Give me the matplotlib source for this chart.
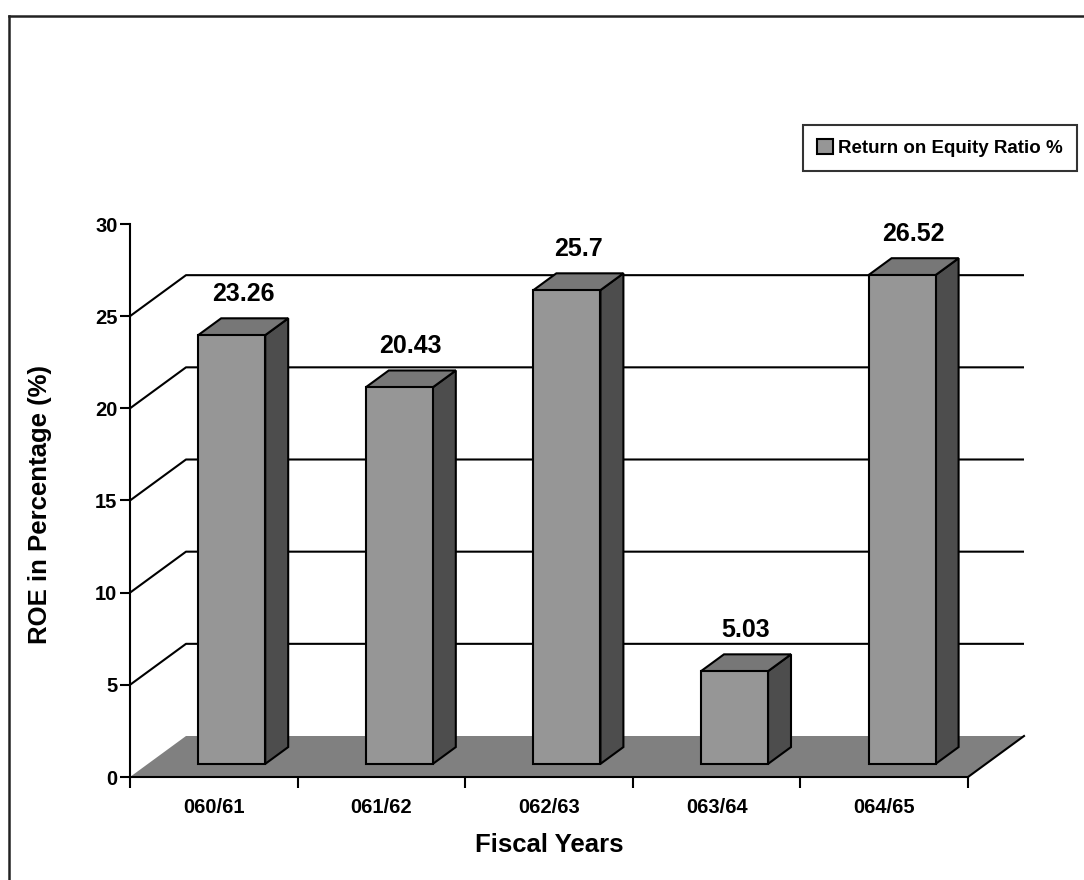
import matplotlib
matplotlib.use("Agg")
import matplotlib.pyplot as plt
from matplotlib.patches import Polygon, Patch
from matplotlib.lines import Line2D

categories = ["060/61", "061/62", "062/63", "063/64", "064/65"]
values = [23.26, 20.43, 25.70, 5.03, 26.52]
value_labels = ["23.26", "20.43", "25.7", "5.03", "26.52"]
yticks = [0, 5, 10, 15, 20, 25, 30]
series_name = "Return on Equity Ratio %"

plt.rcParams['font.family'] = ['Liberation Sans', 'DejaVu Sans']
plt.rcParams['font.weight'] = 'bold'

W, H = 1084, 880
fig = plt.figure(figsize=(W / 100, H / 100), dpi=100)
fig.patch.set_facecolor('white')

# front plane of the axes in pixels
L, R, T, B = 130, 968, 224, 777
ax = fig.add_axes([L / W, 1 - B / H, (R - L) / W, (B - T) / H])
n = len(categories)
ax.set_xlim(0, n)
ax.set_ylim(0, 30)
ax.set_facecolor('none')

# depth offsets (pixels -> data units)
px_x = (R - L) / n
px_y = (B - T) / 30.0
DX = 56 / px_x
DY = 41 / px_y

LW = 1.5
front_c = '#969696'
top_c = '#777777'
side_c = '#4d4d4d'
floor_c = '#808080'

# gridlines: diagonal on left wall + horizontal on back wall
for v in yticks[1:-1]:
    ax.plot([0, DX, n + DX], [v, v + DY, v + DY], color='black', lw=LW,
            clip_on=False, zorder=1, solid_capstyle='butt')

# floor
floor = Polygon([(0, 0), (n, 0), (n + DX, DY), (DX, DY)], closed=True,
                facecolor=floor_c, edgecolor='none', clip_on=False, zorder=2)
ax.add_patch(floor)
ax.plot([n, n + DX], [0, DY], color='black', lw=LW, clip_on=False, zorder=2)

# bars
f1, f2, bw = 0.32, 0.73, 0.4
ddx = (f2 - f1) * DX
ddy = (f2 - f1) * DY
for i, (v, lab) in enumerate(zip(values, value_labels)):
    c = i + 0.5
    x0 = c - bw / 2 + f1 * DX
    x1 = c + bw / 2 + f1 * DX
    y0 = f1 * DY
    y1 = v + f1 * DY
    front = Polygon([(x0, y0), (x1, y0), (x1, y1), (x0, y1)], closed=True,
                    facecolor=front_c, edgecolor='black', lw=LW,
                    clip_on=False, zorder=3, joinstyle='miter')
    top = Polygon([(x0, y1), (x1, y1), (x1 + ddx, y1 + ddy), (x0 + ddx, y1 + ddy)],
                  closed=True, facecolor=top_c, edgecolor='black', lw=LW,
                  clip_on=False, zorder=3, joinstyle='miter')
    side = Polygon([(x1, y0), (x1 + ddx, y0 + ddy), (x1 + ddx, y1 + ddy), (x1, y1)],
                   closed=True, facecolor=side_c, edgecolor='black', lw=LW,
                   clip_on=False, zorder=3, joinstyle='miter')
    for p in (side, top, front):
        ax.add_patch(p)
    ax.annotate(lab, xy=((x0 + x1) / 2 + ddx / 2, y1 + ddy), xytext=(0, 9),
                textcoords='offset points', ha='center', va='bottom',
                fontsize=18, fontweight='bold', color='black', zorder=5,
                annotation_clip=False)

# axes styling
for s in ['top', 'right']:
    ax.spines[s].set_visible(False)
for s in ['left', 'bottom']:
    ax.spines[s].set_linewidth(LW)
    ax.spines[s].set_zorder(4)
ax.set_yticks(yticks)
ax.set_yticklabels([str(t) for t in yticks])
ax.tick_params(axis='y', length=7, width=LW, pad=2, labelsize=14.5)
ax.set_xticks([i + 0.5 for i in range(n)])
ax.set_xticklabels(categories)
ax.set_xticks(list(range(n + 1)), minor=True)
ax.tick_params(axis='x', which='major', length=0, pad=15, labelsize=14.5)
ax.tick_params(axis='x', which='minor', length=8, width=LW)
for lbl in ax.get_xticklabels() + ax.get_yticklabels():
    lbl.set_fontweight('bold')

# axis titles
fig.text(549 / W, 1 - 845 / H, "Fiscal Years", ha='center', va='center',
         fontsize=18.5, fontweight='bold')
fig.text(40 / W, 1 - 505 / H, "ROE in Percentage (%)", ha='center', va='center',
         rotation=90, fontsize=18.5, fontweight='bold')

# legend
handle = Patch(facecolor=front_c, edgecolor='black', lw=LW)
leg = fig.legend([handle], [series_name], loc='upper right',
                 bbox_to_anchor=(1077 / W, 1 - 125 / H),
                 frameon=True, fancybox=False, handlelength=0.85, handleheight=0.85,
                 handletextpad=0.3, borderpad=0.75, borderaxespad=0,
                 prop={'weight': 'bold', 'size': 13.5})
leg.get_frame().set_edgecolor('black')
leg.get_frame().set_linewidth(LW)

# outer border (left and top visible)
fig.add_artist(Line2D([9 / W, 9 / W], [0, 1 - 16 / H], color='#222222', lw=1.8,
                      transform=fig.transFigure))
fig.add_artist(Line2D([9 / W, 1], [1 - 16 / H, 1 - 16 / H], color='#222222', lw=1.8,
                      transform=fig.transFigure))

fig.savefig("out.png", dpi=100)
